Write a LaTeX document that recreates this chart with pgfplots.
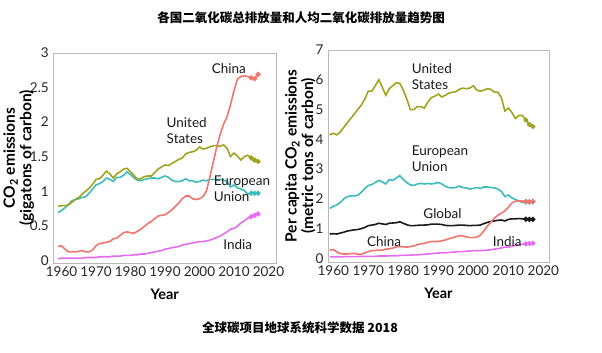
\documentclass[border=0pt]{standalone}
\usepackage{fontspec}
\setmainfont{Lato}
\newfontfamily\cjk{Noto Sans CJK SC}
\usepackage{pgfplots}
\usepackage{pgfplotstable}
\pgfplotsset{compat=1.18}
\definecolor{cchina}{HTML}{F0766E}
\definecolor{cus}{HTML}{9EA41F}
\definecolor{ceu}{HTML}{3DBBBB}
\definecolor{cindia}{HTML}{E46CF0}
\definecolor{cglob}{HTML}{1A1A1A}

\pgfplotstableread{
year china us eu india
1959 0.20 0.78 0.69 0.02
1960 0.21 0.79 0.72 0.03
1961 0.16 0.79 0.76 0.03
1962 0.12 0.80 0.81 0.03
1963 0.12 0.84 0.86 0.03
1964 0.12 0.88 0.88 0.03
1965 0.13 0.91 0.89 0.03
1966 0.14 0.96 0.91 0.03
1967 0.12 1.00 0.92 0.04
1968 0.12 1.04 0.97 0.04
1969 0.15 1.10 1.03 0.04
1970 0.21 1.17 1.09 0.04
1971 0.24 1.18 1.11 0.05
1972 0.25 1.23 1.14 0.05
1973 0.26 1.29 1.19 0.05
1974 0.27 1.25 1.17 0.05
1975 0.31 1.19 1.14 0.06
1976 0.32 1.25 1.20 0.06
1977 0.36 1.28 1.20 0.06
1978 0.40 1.32 1.23 0.07
1979 0.41 1.33 1.28 0.07
1980 0.40 1.28 1.24 0.07
1981 0.39 1.23 1.19 0.08
1982 0.42 1.17 1.16 0.08
1983 0.45 1.18 1.15 0.09
1984 0.49 1.21 1.17 0.09
1985 0.53 1.22 1.18 0.10
1986 0.56 1.22 1.19 0.11
1987 0.60 1.27 1.19 0.12
1988 0.64 1.32 1.18 0.13
1989 0.65 1.35 1.20 0.14
1990 0.66 1.38 1.22 0.16
1991 0.69 1.37 1.20 0.17
1992 0.73 1.40 1.16 0.18
1993 0.78 1.43 1.14 0.19
1994 0.83 1.46 1.14 0.20
1995 0.89 1.48 1.15 0.22
1996 0.93 1.54 1.18 0.23
1997 0.93 1.56 1.15 0.24
1998 0.89 1.57 1.15 0.25
1999 0.88 1.59 1.13 0.26
2000 0.89 1.64 1.14 0.27
2001 0.92 1.61 1.16 0.27
2002 1.00 1.62 1.15 0.28
2003 1.20 1.64 1.17 0.29
2004 1.42 1.66 1.17 0.31
2005 1.64 1.66 1.17 0.33
2006 1.82 1.65 1.17 0.35
2007 1.97 1.67 1.16 0.38
2008 2.08 1.62 1.14 0.41
2009 2.25 1.50 1.06 0.45
2010 2.45 1.55 1.09 0.46
2011 2.62 1.51 1.05 0.49
2012 2.66 1.45 1.03 0.54
2013 2.67 1.50 1.01 0.57
2014 2.66 1.52 0.96 0.61
2015 2.64 1.48 0.97 0.63
2016 2.63 1.45 0.97 0.65
2017 2.69 1.43 0.97 0.67
}\totaltable

\pgfplotstableread{
year us eu global china india
1959 4.15 1.68 0.82 0.28 0.05
1960 4.20 1.75 0.83 0.30 0.05
1961 4.15 1.80 0.82 0.22 0.05
1962 4.25 1.88 0.85 0.16 0.05
1963 4.40 2.00 0.88 0.15 0.06
1964 4.55 2.07 0.92 0.15 0.06
1965 4.70 2.10 0.94 0.16 0.06
1966 4.85 2.10 0.96 0.17 0.06
1967 5.00 2.12 0.97 0.14 0.06
1968 5.15 2.22 1.00 0.14 0.07
1969 5.35 2.35 1.04 0.18 0.07
1970 5.62 2.45 1.10 0.23 0.07
1971 5.62 2.48 1.12 0.26 0.07
1972 5.80 2.55 1.14 0.27 0.07
1973 6.00 2.62 1.18 0.28 0.08
1974 5.75 2.57 1.16 0.28 0.08
1975 5.48 2.50 1.14 0.31 0.08
1976 5.70 2.65 1.18 0.32 0.09
1977 5.80 2.62 1.19 0.35 0.09
1978 5.90 2.70 1.20 0.39 0.09
1979 5.88 2.78 1.23 0.40 0.10
1980 5.65 2.65 1.18 0.39 0.10
1981 5.35 2.55 1.13 0.38 0.11
1982 5.00 2.47 1.10 0.40 0.11
1983 5.00 2.45 1.10 0.42 0.12
1984 5.10 2.50 1.11 0.46 0.12
1985 5.10 2.52 1.12 0.49 0.13
1986 5.05 2.50 1.12 0.51 0.14
1987 5.25 2.52 1.13 0.54 0.15
1988 5.40 2.50 1.15 0.57 0.16
1989 5.45 2.52 1.15 0.57 0.17
1990 5.52 2.55 1.15 0.57 0.18
1991 5.42 2.50 1.14 0.59 0.19
1992 5.48 2.42 1.11 0.62 0.19
1993 5.55 2.38 1.10 0.66 0.20
1994 5.58 2.37 1.10 0.69 0.21
1995 5.60 2.38 1.11 0.73 0.22
1996 5.68 2.43 1.12 0.76 0.23
1997 5.72 2.38 1.12 0.76 0.23
1998 5.70 2.37 1.11 0.72 0.24
1999 5.72 2.33 1.10 0.70 0.25
2000 5.80 2.35 1.11 0.70 0.26
2001 5.65 2.38 1.11 0.72 0.26
2002 5.62 2.35 1.12 0.78 0.26
2003 5.65 2.40 1.17 0.92 0.27
2004 5.70 2.40 1.21 1.08 0.28
2005 5.68 2.38 1.24 1.22 0.29
2006 5.58 2.37 1.26 1.35 0.31
2007 5.58 2.33 1.28 1.45 0.33
2008 5.40 2.25 1.29 1.52 0.35
2009 4.95 2.08 1.26 1.60 0.38
2010 5.05 2.13 1.31 1.72 0.38
2011 4.90 2.03 1.33 1.86 0.41
2012 4.70 1.98 1.33 1.92 0.44
2013 4.80 1.93 1.34 1.93 0.46
2014 4.80 1.88 1.33 1.93 0.48
2015 4.65 1.90 1.32 1.91 0.49
2016 4.50 1.90 1.31 1.90 0.50
2017 4.43 1.90 1.31 1.92 0.51
}\percaptable

\pgfplotsset{
  chartbase/.style={
    scale only axis,
    anchor=south west,
    axis line style={gray!55, line width=0.6pt},
    major tick length=0pt,
    tick style={draw=none},
    /pgf/number format/assume math mode=true,
    ticklabel style={font=\fontsize{13.5}{15}\selectfont, text=black!85},
    yticklabel style={xshift=-1pt},
    label style={font=\bfseries\fontsize{14.5}{16.5}\selectfont},
    xtick={1960,1970,...,2020},
    xticklabel style={/pgf/number format/1000 sep={}},
    xlabel={Year},
    xlabel style={at={(axis description cs:0.5,-0.15)}, anchor=center},
    every axis plot/.append style={line width=1.6pt, mark=*, mark size=1.7pt, mark indices={57,58,59}},
    clip=false,
  },
}
\tikzset{lab/.style={font=\fontsize{13.5}{16}\selectfont, text=black!90, inner sep=0pt, align=left}}

\begin{document}
\begin{tikzpicture}
\useasboundingbox (0,0) rectangle (602pt,353pt);
\node[font=\cjk\bfseries\fontsize{12.5}{14}\selectfont] at (301pt,335pt) {各国二氧化碳总排放量和人均二氧化碳排放量趋势图};
\node[font=\cjk\bfseries\fontsize{12.5}{14}\selectfont] at (300pt,25pt) {全球碳项目地球系统科学数据 2018};

\begin{axis}[chartbase,
  at={(53.3pt,90pt)}, width=222.7pt, height=210pt,
  xmin=1957.6, xmax=2022.2, ymin=-0.04, ymax=3.0,
  ytick={0,0.5,...,3},
  yticklabel style={/pgf/number format/fixed},
  ylabel={CO\textsubscript{2} emissions\\(gigatons of carbon)},
  ylabel style={font=\bfseries\fontsize{15.5}{16.5}\selectfont, at={(axis description cs:-0.155,0.5)}, anchor=center, rotate=0, align=center},
]
\addplot[color=ceu] table[x=year,y=eu] {\totaltable};
\addplot[color=cus] table[x=year,y=us] {\totaltable};
\addplot[color=cindia] table[x=year,y=india] {\totaltable};
\addplot[color=cchina] table[x=year,y=china] {\totaltable};
\node[lab] at (axis cs:2008.5,2.78) {China};
\node[lab] at (axis cs:1996.3,1.87) {United\\States};
\node[lab, anchor=west] at (axis cs:2004.1,1.04) {European\\Union};
\node[lab] at (axis cs:2011.1,0.22) {India};
\end{axis}

\begin{axis}[chartbase,
  at={(328pt,91pt)}, width=221pt, height=212pt,
  xmin=1958.5, xmax=2021.6, ymin=-0.12, ymax=7,
  ytick={0,1,...,7},
  ylabel={Per capita CO\textsubscript{2} emissions\\(metric tons of carbon)},
  ylabel style={font=\bfseries\fontsize{15.5}{16.5}\selectfont, at={(axis description cs:-0.125,0.5)}, anchor=center, rotate=0, align=center},
]
\addplot[color=cus] table[x=year,y=us] {\percaptable};
\addplot[color=ceu] table[x=year,y=eu] {\percaptable};
\addplot[color=cglob] table[x=year,y=global] {\percaptable};
\addplot[color=cindia] table[x=year,y=india] {\percaptable};
\addplot[color=cchina] table[x=year,y=china] {\percaptable};
\node[lab, anchor=west] at (axis cs:1982.4,6.10) {United\\States};
\node[lab, anchor=west] at (axis cs:1982.4,3.36) {European\\Union};
\node[lab] at (axis cs:1991.2,1.51) {Global};
\node[lab] at (axis cs:1974.5,0.56) {China};
\node[lab] at (axis cs:2009.7,0.57) {India};
\end{axis}
\end{tikzpicture}
\end{document}
